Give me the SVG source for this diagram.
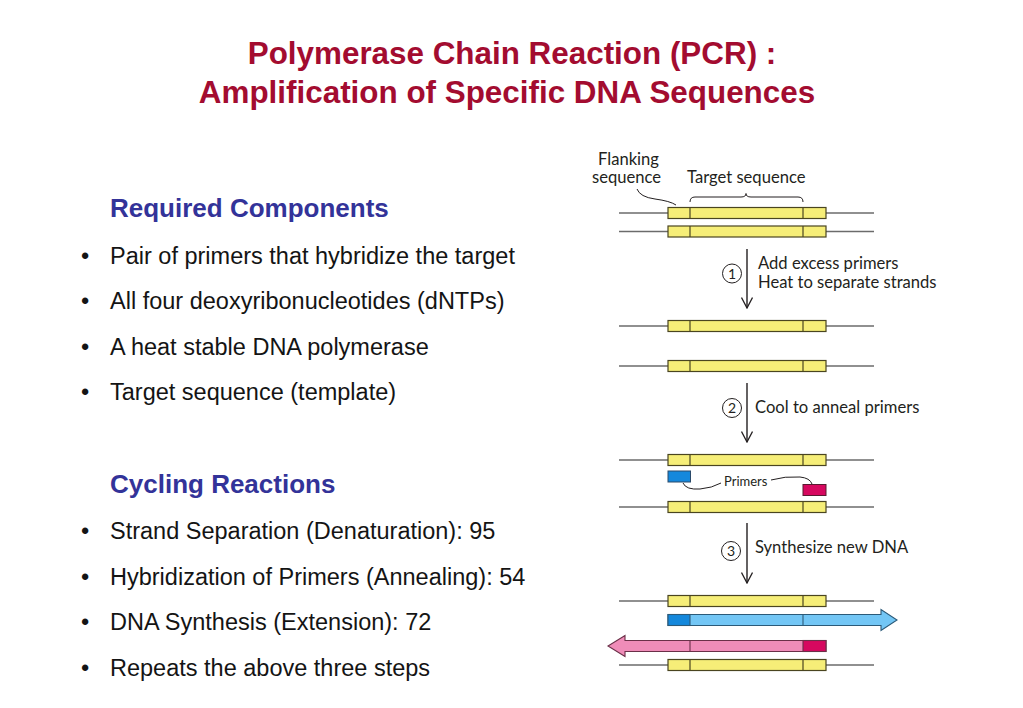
<svg xmlns="http://www.w3.org/2000/svg" width="1023" height="708" viewBox="0 0 1023 708">
<defs>
<style>
.title{font-family:"Liberation Sans",Arial,sans-serif;font-weight:bold;font-size:31.4px;fill:#a30c30;text-anchor:middle}
.head{font-family:"Liberation Sans",Arial,sans-serif;font-weight:bold;font-size:26px;fill:#333399}
.item{font-family:"Liberation Sans",Arial,sans-serif;font-size:23.5px;fill:#141414}
.lbl{font-family:Lato,"Open Sans",sans-serif;font-size:16.6px;fill:#231f20}
.small{font-family:Lato,"Open Sans",sans-serif;font-size:13px;fill:#231f20}
.wire{stroke:#6b6b6b;stroke-width:1.3;fill:none}
.dna{fill:#f6ee78;stroke:#4a4520;stroke-width:1.2}
.div{stroke:#4a4520;stroke-width:1.2}
.lead{stroke:#231f20;stroke-width:1;fill:none}
.arr{stroke:#231f20;stroke-width:1.4;fill:none}
.num{fill:none;stroke:#231f20;stroke-width:1}
.numt{font-family:Lato,"Open Sans",sans-serif;font-size:14px;fill:#231f20;text-anchor:middle}
</style>
<marker id="vhead" viewBox="0 0 12 12" refX="11" refY="6" markerWidth="12" markerHeight="12" markerUnits="userSpaceOnUse" orient="auto">
<path d="M0.5,0.5 L11,6 L0.5,11.5" fill="none" stroke="#231f20" stroke-width="1.3"/>
</marker>
<g id="strand">
<line class="wire" x1="619" y1="0" x2="874" y2="0"/>
<rect class="dna" x="668" y="-5.5" width="158" height="11"/>
<line class="div" x1="690" y1="-5.5" x2="690" y2="5.5"/>
<line class="div" x1="803" y1="-5.5" x2="803" y2="5.5"/>
</g>
</defs>
<rect width="1023" height="708" fill="#ffffff"/>

<g id="title">
<text class="title" x="512" y="64">Polymerase Chain Reaction (PCR) :</text>
<text class="title" x="507" y="103">Amplification of Specific DNA Sequences</text>
</g>

<g id="required-components">
<text class="head" x="110" y="217">Required Components</text>
<text class="item" x="81" y="264">•</text><text class="item" x="110" y="264">Pair of primers that hybridize the target</text>
<text class="item" x="81" y="309">•</text><text class="item" x="110" y="309">All four deoxyribonucleotides (dNTPs)</text>
<text class="item" x="81" y="355">•</text><text class="item" x="110" y="355">A heat stable DNA polymerase</text>
<text class="item" x="81" y="400">•</text><text class="item" x="110" y="400">Target sequence (template)</text>
</g>

<g id="cycling-reactions">
<text class="head" x="110" y="493">Cycling Reactions</text>
<text class="item" x="81" y="539">•</text><text class="item" x="110" y="539">Strand Separation (Denaturation): 95</text>
<text class="item" x="81" y="585">•</text><text class="item" x="110" y="585">Hybridization of Primers (Annealing): 54</text>
<text class="item" x="81" y="630">•</text><text class="item" x="110" y="630">DNA Synthesis (Extension): 72</text>
<text class="item" x="81" y="676">•</text><text class="item" x="110" y="676">Repeats the above three steps</text>
</g>

<g id="step0-duplex">
<text class="lbl" x="598" y="165">Flanking</text>
<text class="lbl" x="592" y="183">sequence</text>
<text class="lbl" x="687" y="183">Target sequence</text>
<use href="#strand" y="213"/>
<use href="#strand" y="231.5"/>
</g>

<g id="step1-separated">
<use href="#strand" y="326"/>
<use href="#strand" y="366"/>
</g>

<g id="step2-annealed">
<use href="#strand" y="460"/>
<rect x="668" y="471" width="22.5" height="11" fill="#1488dc" stroke="#2a4a6a" stroke-width="1"/>
<rect x="803" y="484.5" width="23" height="11" fill="#d6085f" stroke="#5a1a30" stroke-width="1"/>
<text class="small" x="724" y="486">Primers</text>
<use href="#strand" y="507"/>
</g>

<g id="step3-synthesis">
<use href="#strand" y="601"/>
<polygon points="668,614.5 881,614.5 881,609.5 897,620 881,630.5 881,625.5 668,625.5" fill="#73c6f5" stroke="#2c5a78" stroke-width="1.1"/>
<rect x="668" y="614.5" width="22" height="11" fill="#1488dc" stroke="#2c5a78" stroke-width="1.1"/>
<line x1="803" y1="614.5" x2="803" y2="625.5" stroke="#2c5a78" stroke-width="1.1"/>
<polygon points="826,640.5 625,640.5 625,635.5 608,646 625,656.5 625,651.5 826,651.5" fill="#ef8cb8" stroke="#6a3048" stroke-width="1.1"/>
<rect x="803" y="640.5" width="23" height="11" fill="#d6085f" stroke="#6a3048" stroke-width="1.1"/>
<line x1="690" y1="640.5" x2="690" y2="651.5" stroke="#6a3048" stroke-width="1.1"/>
<use href="#strand" y="665"/>
</g>

<g id="step-labels">
<circle class="num" cx="732" cy="273.5" r="9.5"/><text class="numt" x="732" y="278.5">1</text>
<text class="lbl" x="758" y="269">Add excess primers</text>
<text class="lbl" x="758" y="288">Heat to separate strands</text>
<circle class="num" cx="732" cy="408" r="9.5"/><text class="numt" x="732" y="413">2</text>
<text class="lbl" x="755" y="413">Cool to anneal primers</text>
<circle class="num" cx="731" cy="551" r="9.5"/><text class="numt" x="731" y="556">3</text>
<text class="lbl" x="755" y="553">Synthesize new DNA</text>
</g>

<g id="connectors">
<line class="arr" x1="747" y1="249" x2="747" y2="308" marker-end="url(#vhead)"/>
<line class="arr" x1="747" y1="383" x2="747" y2="442" marker-end="url(#vhead)"/>
<line class="arr" x1="747" y1="523" x2="747" y2="583" marker-end="url(#vhead)"/>
<path class="lead" d="M690,202 Q690,197 695,197 L741,197 Q746,197 746,193.5 Q746,197 751,197 L798,197 Q803,197 803,202"/>
<path class="lead" d="M637,189 Q640,197 655,199 Q670,201 676,205"/>
<path class="lead" d="M683,483 Q686,490 700,489 Q712,488 721,483"/>
<path class="lead" d="M771,480 Q785,476 800,477 Q810,478 812,484"/>
</g>
</svg>
